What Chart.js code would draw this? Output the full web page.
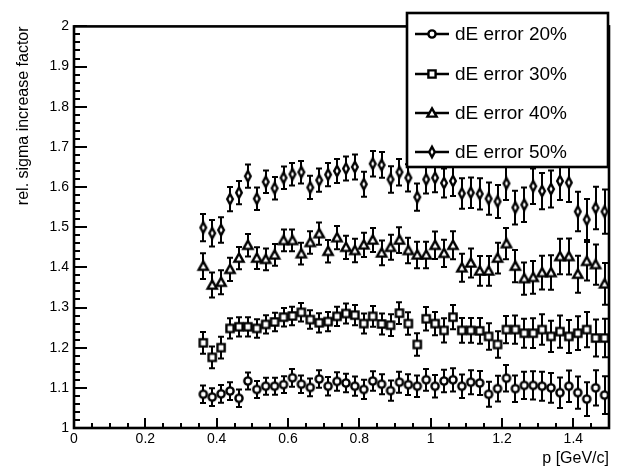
<!DOCTYPE html>
<html>
<head>
<meta charset="utf-8">
<script src="https://cdn.jsdelivr.net/npm/chart.js@4.4.1/dist/chart.umd.min.js"></script>
<style>
html,body{margin:0;padding:0;background:#fff}
#wrap{width:626px;height:472px}
</style>
</head>
<body>
<div id="wrap"><canvas id="c" width="626" height="472"></canvas></div>
<script>
// bin centres, p [GeV/c]
const pVals = [0.3625,0.3875,0.4125,0.4375,0.4625,0.4875,0.5125,0.5375,0.5625,0.5875,
  0.6125,0.6375,0.6625,0.6875,0.7125,0.7375,0.7625,0.7875,0.8125,0.8375,
  0.8625,0.8875,0.9125,0.9375,0.9625,0.9875,1.0125,1.0375,1.0625,1.0875,
  1.1125,1.1375,1.1625,1.1875,1.2125,1.2375,1.2625,1.2875,1.3125,1.3375,
  1.3625,1.3875,1.4125,1.4375,1.4625,1.4875];

const seriesNames = ['dE error 20%','dE error 30%','dE error 40%','dE error 50%'];

const val20 = [1.084,1.077,1.085,1.092,1.074,1.117,1.096,1.104,1.104,1.108,
  1.125,1.109,1.101,1.122,1.104,1.116,1.112,1.104,1.096,1.117,
  1.109,1.093,1.114,1.108,1.104,1.120,1.104,1.117,1.120,1.104,
  1.114,1.112,1.084,1.098,1.124,1.098,1.106,1.106,1.104,1.100,
  1.088,1.104,1.088,1.072,1.100,1.082];
const val30 = [1.212,1.176,1.200,1.248,1.252,1.252,1.248,1.258,1.264,1.276,
  1.279,1.288,1.270,1.262,1.265,1.278,1.285,1.281,1.260,1.278,
  1.259,1.256,1.286,1.260,1.208,1.272,1.260,1.243,1.276,1.243,
  1.243,1.242,1.228,1.208,1.245,1.245,1.236,1.236,1.245,1.228,
  1.240,1.228,1.236,1.245,1.224,1.224];
const val40 = [1.403,1.356,1.363,1.395,1.423,1.455,1.423,1.420,1.431,1.467,
  1.467,1.434,1.462,1.484,1.440,1.474,1.450,1.442,1.456,1.468,
  1.436,1.450,1.468,1.442,1.431,1.431,1.455,1.435,1.455,1.399,
  1.411,1.391,1.391,1.423,1.459,1.403,1.372,1.375,1.387,1.387,
  1.427,1.427,1.383,1.415,1.407,1.359];
const val50 = [1.499,1.485,1.493,1.570,1.586,1.627,1.571,1.613,1.597,1.623,
  1.632,1.637,1.599,1.617,1.631,1.640,1.646,1.650,1.607,1.658,
  1.655,1.619,1.637,1.623,1.575,1.619,1.623,1.610,1.615,1.584,
  1.586,1.583,1.571,1.564,1.609,1.549,1.556,1.602,1.590,1.595,
  1.615,1.611,1.539,1.519,1.548,1.539];

const err20 = [0.022,0.022,0.022,0.022,0.022,0.021,0.021,0.021,0.021,0.021,
  0.022,0.022,0.022,0.022,0.023,0.023,0.023,0.024,0.024,0.024,
  0.025,0.025,0.026,0.026,0.027,0.027,0.028,0.028,0.029,0.029,
  0.030,0.030,0.031,0.032,0.033,0.033,0.034,0.035,0.036,0.037,
  0.038,0.039,0.040,0.042,0.044,0.047];
const err30 = [0.027,0.027,0.027,0.025,0.024,0.024,0.023,0.023,0.023,0.023,
  0.023,0.023,0.023,0.024,0.024,0.024,0.025,0.025,0.025,0.026,
  0.026,0.027,0.027,0.028,0.028,0.029,0.029,0.030,0.030,0.031,
  0.031,0.032,0.033,0.033,0.034,0.035,0.036,0.037,0.038,0.039,
  0.040,0.041,0.042,0.044,0.046,0.048];
const err40 = [0.032,0.031,0.030,0.029,0.028,0.028,0.027,0.027,0.027,0.027,
  0.027,0.027,0.028,0.028,0.028,0.029,0.029,0.029,0.030,0.030,
  0.031,0.031,0.032,0.032,0.033,0.033,0.034,0.034,0.035,0.035,
  0.036,0.037,0.037,0.038,0.039,0.040,0.040,0.041,0.042,0.043,
  0.044,0.045,0.046,0.048,0.050,0.052];
const err50 = [0.034,0.033,0.032,0.030,0.029,0.029,0.028,0.028,0.028,0.028,
  0.028,0.028,0.029,0.029,0.029,0.030,0.030,0.031,0.031,0.032,
  0.032,0.033,0.033,0.034,0.034,0.035,0.036,0.036,0.037,0.038,
  0.038,0.039,0.040,0.041,0.041,0.042,0.043,0.044,0.045,0.046,
  0.047,0.048,0.049,0.051,0.053,0.055];

const FONT = 'Liberation Sans, Arial, Helvetica, sans-serif';

// ROOT-like open markers as small canvases
function makeMarker(shape){
  const c = document.createElement('canvas'); c.width = 16; c.height = 16;
  const g = c.getContext('2d');
  g.translate(8,8); g.lineWidth = 2.4; g.strokeStyle = '#000'; g.fillStyle = '#fff';
  g.beginPath();
  if(shape==='circle') g.arc(0,0,3.6,0,Math.PI*2);
  else if(shape==='square') g.rect(-3.6,-3.6,7.2,7.2);
  else if(shape==='triangle'){ g.moveTo(0,-4.6); g.lineTo(4.6,3.6); g.lineTo(-4.6,3.6); g.closePath(); }
  else { g.moveTo(0,-5.2); g.lineTo(2.8,0); g.lineTo(0,5.2); g.lineTo(-2.8,0); g.closePath(); }
  g.fill(); g.stroke();
  return c;
}
const markerImgs = [makeMarker('circle'),makeMarker('square'),makeMarker('triangle'),makeMarker('diamond')];

const seriesVals = [val20,val30,val40,val50];
const seriesErrs = [err20,err30,err40,err50];

// inward tick marks drawn by the scales themselves (negative tickLength)
const tickGrid = len => ({display:true, drawOnChartArea:false, drawTicks:true,
  tickLength:-len, tickWidth:2, tickColor:'#000', lineWidth:2, color:'#000'});

const rootStyle = {
  id:'rootStyle',
  beforeDatasetsDraw(chart){
    const ctx = chart.ctx, xs = chart.scales.x, ys = chart.scales.y;
    ctx.save(); ctx.strokeStyle='#000'; ctx.lineWidth=2;
    seriesVals.forEach((v,s)=>{
      v.forEach((yv,i)=>{
        const px = Math.round(xs.getPixelForValue(pVals[i]));
        const e = seriesErrs[s][i];
        const y1 = ys.getPixelForValue(yv-e), y2 = ys.getPixelForValue(yv+e);
        ctx.beginPath();
        ctx.moveTo(px,y1); ctx.lineTo(px,y2);
        ctx.moveTo(px-3,y1); ctx.lineTo(px+3,y1);
        ctx.moveTo(px-3,y2); ctx.lineTo(px+3,y2);
        ctx.stroke();
      });
    });
    ctx.restore();
  },
  afterDraw(chart){
    const ctx = chart.ctx, a = chart.chartArea;
    ctx.save(); ctx.strokeStyle='#000';
    // frame
    ctx.lineWidth=2.6;
    ctx.strokeRect(a.left,a.top,a.right-a.left,a.bottom-a.top);
    // legend
    const lx=407, ly=13, lw=201, lh=154;
    ctx.fillStyle='#fff'; ctx.fillRect(lx,ly,lw,lh);
    ctx.strokeRect(lx,ly,lw,lh);
    const rows=[34,74,113,152];
    ctx.font='19px '+FONT; ctx.fillStyle='#000'; ctx.textBaseline='middle'; ctx.textAlign='left';
    seriesNames.forEach((t,i)=>{
      ctx.lineWidth=2.4; ctx.beginPath(); ctx.moveTo(415,rows[i]); ctx.lineTo(449,rows[i]); ctx.stroke();
      ctx.drawImage(markerImgs[i],432-8,rows[i]-8);
      ctx.fillText(t,455,rows[i]+1);
    });
    ctx.restore();
  }
};

new Chart(document.getElementById('c'),{
  type:'scatter',
  data:{datasets: seriesVals.map((v,s)=>({
    label: seriesNames[s],
    data: v.map((yv,i)=>({x:pVals[i], y:yv})),
    pointStyle: markerImgs[s], pointRadius:4, showLine:false
  }))},
  options:{
    responsive:false, animation:false, devicePixelRatio:1,
    layout:{padding:{top:12,right:17,left:0,bottom:0}},
    plugins:{legend:{display:false}, tooltip:{enabled:false}},
    scales:{
      x:{type:'linear', position:'bottom', weight:1, min:0, max:1.5,
        afterFit(s){ s.height=44; },
        ticks:{stepSize:0.2, includeBounds:false, padding:13, maxRotation:0, autoSkip:false, color:'#000',
          font:{family:FONT,size:14}, callback:v=>String(+v.toFixed(1))},
        grid:tickGrid(10), border:{display:false},
        title:{display:true, text:'p [GeV/c]', align:'end', color:'#000',
          font:{family:FONT,size:16}, padding:{top:0,bottom:4}}
      },
      xMinor:{type:'linear', axis:'x', position:'bottom', weight:0, min:0, max:1.5,
        afterFit(s){ s.height=0; },
        ticks:{display:false, stepSize:0.05, autoSkip:false},
        grid:tickGrid(5), border:{display:false}
      },
      y:{type:'linear', position:'left', weight:1, min:1, max:2,
        afterFit(s){ s.width=74; },
        ticks:{stepSize:0.1, padding:18, color:'#000', autoSkip:false,
          font:{family:FONT,size:14}, callback:v=>String(+v.toFixed(1))},
        grid:tickGrid(13), border:{display:false},
        title:{display:true, text:'rel. sigma increase factor', align:'end', color:'#000',
          font:{family:FONT,size:16}, padding:{top:14,bottom:0}}
      },
      yMinor:{type:'linear', axis:'y', position:'left', weight:0, min:1, max:2,
        afterFit(s){ s.width=0; },
        ticks:{display:false, stepSize:0.02, autoSkip:false},
        grid:tickGrid(6), border:{display:false}
      }
    }
  },
  plugins:[rootStyle]
});
</script>
</body>
</html>
